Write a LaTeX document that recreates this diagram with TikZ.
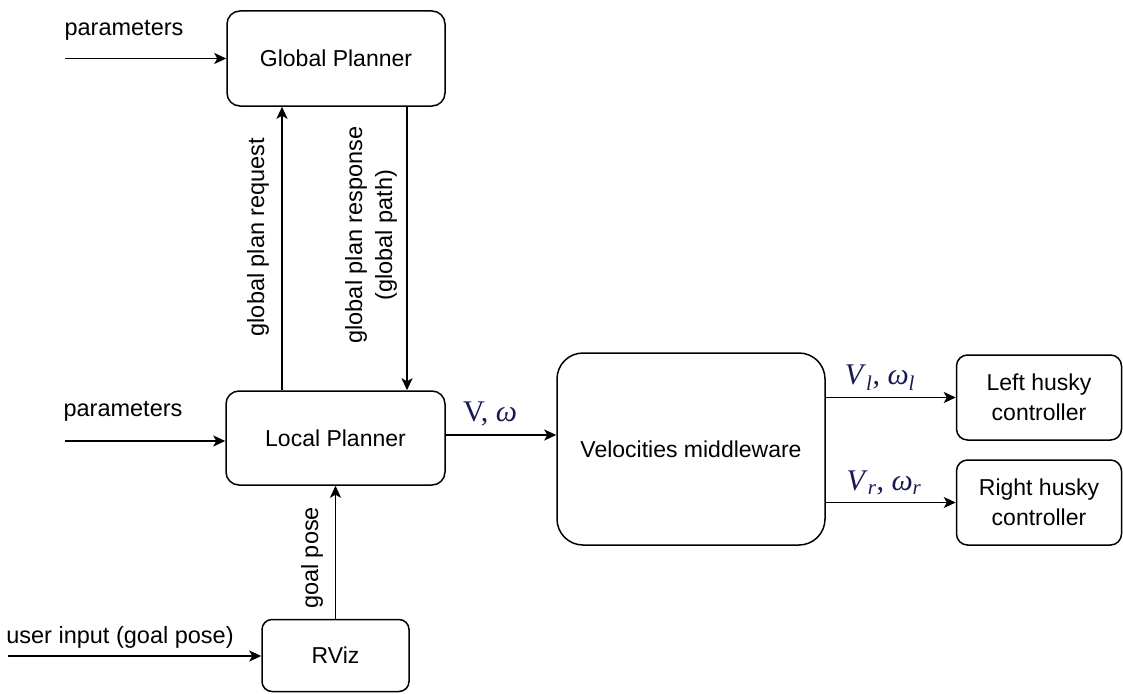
\documentclass[tikz,border=0pt]{standalone}
\usepackage{fontspec}
\setmainfont{Liberation Sans}
\newfontfamily\serifm{Liberation Serif}
\usetikzlibrary{arrows.meta}
\definecolor{mathblue}{rgb}{0.10,0.10,0.32}
\tikzset{
  box/.style={draw, line width=1.5pt, rounded corners=13pt, align=center, inner sep=0pt,
     font=\fontsize{23}{30}\selectfont},
  lbl/.style={inner sep=0pt, align=center, font=\fontsize{23.5}{30}\selectfont},
  mlbl/.style={inner sep=0pt, text=mathblue, font=\serifm\fontsize{30}{32}\selectfont},
  arr/.style={line width=1.7pt, -{Stealth[length=12pt,width=11pt,inset=3pt]}}
}
\begin{document}
\begin{tikzpicture}[x=1pt,y=-1pt]
\useasboundingbox (0,0) rectangle (1123,693);
% boxes
\node[box, minimum width=218pt, minimum height=95pt] (GP) at (336,58.5) {Global Planner};
\node[box, minimum width=219pt, minimum height=94pt] (LP) at (335.5,438) {Local Planner};
\node[box, minimum width=268pt, minimum height=192pt, rounded corners=26pt] (VM) at (691,449) {Velocities middleware};
\node[box, minimum width=165pt, minimum height=85pt, rounded corners=11pt] (LH) at (1039,397.5) {Left husky\\controller};
\node[box, minimum width=165pt, minimum height=85pt, rounded corners=11pt] (RH) at (1039,502.5) {Right husky\\controller};
\node[box, minimum width=147pt, minimum height=72pt, rounded corners=10pt] (RV) at (335.5,655.5) {RViz};
% free ends
\coordinate (p1) at (65,58.5);
\coordinate (p2) at (65,441);
\coordinate (p3) at (8,656);
% connectors
\draw[arr] (p1) -- (GP.west);
\draw[arr] (p2) -- (p2 -| LP.west);
\draw[arr] (p3) -- (p3 -| RV.west);
\draw[arr] ([xshift=-53.5pt]LP.north) -- ([xshift=-54pt]GP.south);
\draw[arr] ([xshift=71pt]GP.south) -- ([xshift=71.5pt]LP.north);
\draw[arr] (RV.north) -- (LP.south);
\draw[arr] ([yshift=3pt]LP.east) -- ([yshift=3pt]LP.east -| VM.west);
\draw[arr] (LH.west -| VM.east) -- (LH.west);
\draw[arr] (RH.west -| VM.east) -- (RH.west);
% labels
\node[lbl] (t1) at (124,30) {parameters};
\node[lbl] (t2) at (123,411) {parameters};
\node[lbl] (t3) at (120,637) {user input (goal pose)};
\node[lbl, rotate=90] (t4) at (258,237) {global plan request};
\node[lbl, rotate=90] (t5) at (371,235) {global plan response\\(global path)};
\node[lbl, rotate=90] (t6) at (312,558) {goal pose};
\node[mlbl] (m1) at (490,414) {V, \textit{ω}};
\node[mlbl] (m2) at (880,378) {\textit{V}\textsubscript{\textit{l}}, \textit{ω}\textsubscript{\textit{l}}};
\node[mlbl] (m3) at (884,483) {\textit{V}\textsubscript{\textit{r}}, \textit{ω}\textsubscript{\textit{r}}};
\end{tikzpicture}
\end{document}
